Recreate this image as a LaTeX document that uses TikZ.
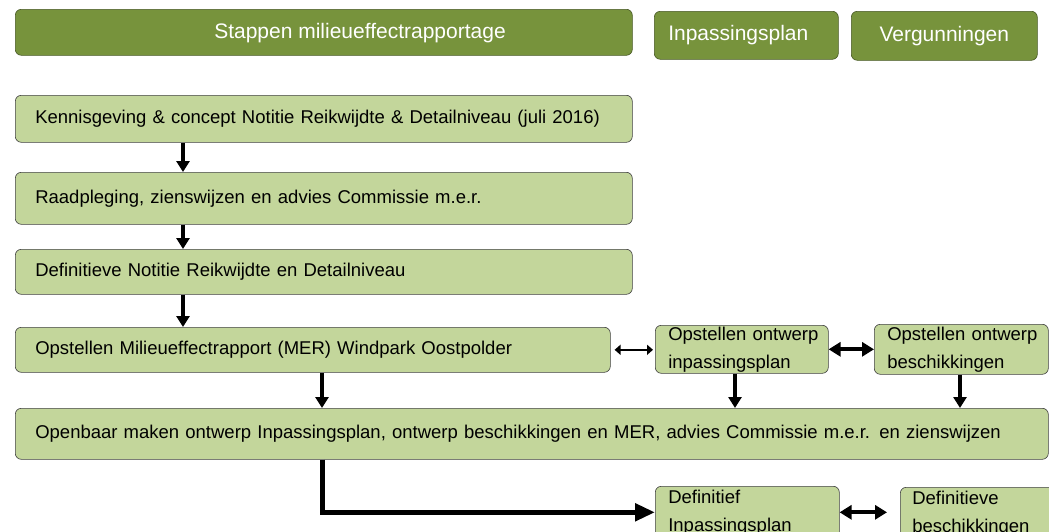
\documentclass[tikz,border=0pt]{standalone}
\usepackage{fontspec}
\setmainfont{Liberation Sans}
\usetikzlibrary{arrows.meta,calc,positioning}
\definecolor{headgreen}{HTML}{77933C}
\definecolor{stepgreen}{HTML}{C3D69B}

\begin{document}
\begin{tikzpicture}[x=1pt,y=-1pt,
    headbox/.style={fill=headgreen,draw=headgreen!60!black,line width=0.6pt,
      rounded corners=6pt,anchor=north west,text=white,
      font=\fontsize{21}{25}\selectfont},
    stepbox/.style={fill=stepgreen,draw=black!75,line width=0.6pt,
      rounded corners=6pt,anchor=north west,align=left,
      inner xsep=20pt,inner ysep=0pt,font=\fontsize{18.5}{28}\selectfont},
    smallbox/.style={stepbox,inner xsep=13pt},
    flow/.style={line width=3.5pt,-{Triangle[width=13pt,length=11pt]}},
    twoway/.style={line width=4pt,
      {Triangle[width=14pt,length=12pt]}-{Triangle[width=14pt,length=12pt]}},
    thinway/.style={line width=2.5pt,
      {Triangle[width=10pt,length=6pt]}-{Triangle[width=10pt,length=6pt]}},
    bigflow/.style={line width=5pt,-{Triangle[width=17pt,length=20pt]}}]

       \useasboundingbox (0,0) rectangle (1049,531);
       \clip (0,0) rectangle (1049,531);

       % header
       \node[headbox,minimum width=617pt,minimum height=46pt] (mer) at (15,9) {};
       \node[text=white,font=\fontsize{21}{25}\selectfont] (mertext) at (360,33)
       {Stappen milieueffectrapportage};
       \node[headbox,minimum width=184pt,minimum height=48pt] (inpas) at (654,11)
       {\hspace*{-16pt}Inpassingsplan};
       \node[headbox,minimum width=186pt,minimum height=49pt] (verg) at (851,11)
       {Vergunningen};

       % steps
       \node[stepbox,minimum height=47pt,text width=577pt] (kennis) at (15,95)
       {Kennisgeving \& concept Notitie Reikwijdte \& Detailniveau (juli 2016)};
       \node[stepbox,minimum height=52pt,text width=577pt] (raad) at (15,172)
       {\raisebox{4pt}{Raadpleging, zienswijzen en advies Commissie m.e.r.}};
       \node[stepbox,minimum height=45pt,text width=577pt] (defnot) at (15,249)
       {Definitieve Notitie Reikwijdte en Detailniveau};
       \node[stepbox,minimum height=45pt,text width=555pt] (opmer) at (15,327)
       {\raisebox{-3pt}{Opstellen Milieueffectrapport (MER) Windpark Oostpolder}};
       \node[smallbox,minimum height=48pt,text width=147pt] (opinp) at (655,325)
       {\mbox{Opstellen ontwerp}\\inpassingsplan};
       \node[smallbox,minimum height=50pt,text width=148pt] (opbes) at (874,324)
       {\mbox{Opstellen ontwerp}\\beschikkingen};
       \node[stepbox,minimum height=51pt,text width=993pt] (openb) at (15,408)
       {\mbox{Openbaar maken ontwerp Inpassingsplan, ontwerp beschikkingen en MER, advies Commissie m.e.r. en zienswijzen}};
       \node[smallbox,minimum height=52pt,text width=158pt] (definp) at (655,486)
       {Definitief\\Inpassingsplan};
       \node[smallbox,inner xsep=12pt,minimum height=52pt,text width=136pt] (defbes) at (900,487)
       {Definitieve\\beschikkingen};

       % columns
       \coordinate (colA) at (183,0);
       \coordinate (colB) at (322,0);
       \coordinate (colC) at (735,0);
       \coordinate (colD) at (960,0);

       \draw[flow] (colA |- kennis.south) -- (colA |- raad.north);
       \draw[flow] (colA |- raad.south) -- (colA |- defnot.north);
       \draw[flow] (colA |- defnot.south) -- (colA |- opmer.north);
       \draw[flow] (colB |- opmer.south) -- (colB |- openb.north);
       \draw[flow] (colC |- opinp.south) -- (colC |- openb.north);
       \draw[flow] (colD |- opbes.south) -- (colD |- openb.north);

       \draw[thinway,shorten <=4pt,shorten >=2pt] (opmer.east) -- (opmer.east -| opinp.west);
       \draw[twoway] (opinp.east) -- (opinp.east -| opbes.west);
       \draw[twoway,shorten >=13pt] (definp.east) -- (definp.east -| defbes.west);

       \draw[bigflow] (colB |- openb.south) |- (definp.west);
     \end{tikzpicture}
\end{document}
